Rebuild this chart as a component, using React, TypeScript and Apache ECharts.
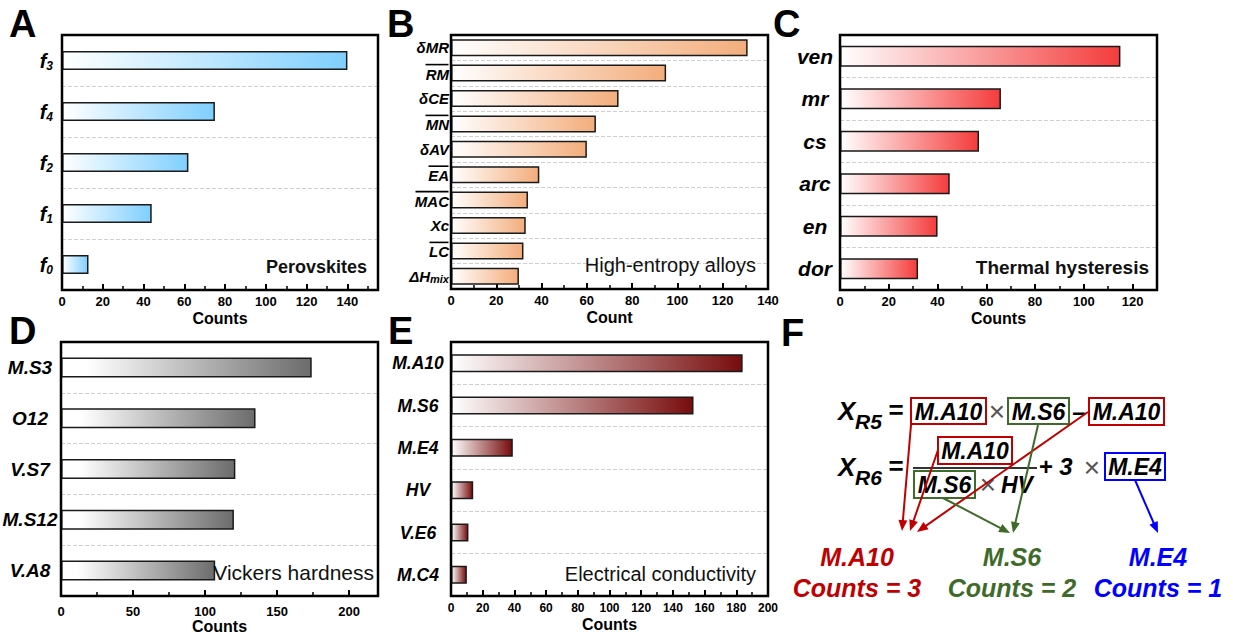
import React, { useEffect, useRef } from 'react';
import * as echarts from 'echarts';

const FONT = '"Liberation Sans", Arial, Helvetica, sans-serif';

// ---- data ----
const perovCategories = ['f3', 'f4', 'f2', 'f1', 'f0'];
const perovCounts = [140, 75, 62, 44, 13];

const heaCategories = ['δMR', 'RM', 'δCE', 'MN', 'δAV', 'EA', 'MAC', 'Xc', 'LC', 'ΔHmix'];
const heaCounts = [131, 95, 74, 64, 60, 39, 34, 33, 32, 30];

const thermCategories = ['ven', 'mr', 'cs', 'arc', 'en', 'dor'];
const thermCounts = [115, 66, 57, 45, 40, 32];

const vickersCategories = ['M.S3', 'O12', 'V.S7', 'M.S12', 'V.A8'];
const vickersCounts = [174, 135, 121, 120, 107];

const elecCategories = ['M.A10', 'M.S6', 'M.E4', 'HV', 'V.E6', 'M.C4'];
const elecCounts = [184, 153, 39, 14, 11, 10];

const axisMax = [155, 140, 130, 220, 200];
const axisInterval = [20, 20, 20, 50, 20];
const axisNames = ['Counts', 'Count', 'Counts', 'Counts', 'Counts'];
const panelTitles = ['Perovskites', 'High-entropy alloys', 'Thermal hysteresis', 'Vickers hardness', 'Electrical conductivity'];
const panelLetters = ['A', 'B', 'C', 'D', 'E', 'F'];

const formulaTerms = ['M.A10', 'M.S6', 'M.E4'];
const formulaCounts = [3, 2, 1];

// overlined labels in B (overline width)
const overlineWidth: Record<string, number> = { RM: 23, MN: 23, EA: 20, MAC: 33, LC: 19 };

export default function App() {
  const ref = useRef<HTMLDivElement>(null);

  useEffect(() => {
    if (!ref.current) return;
    const chart = echarts.init(ref.current, undefined, { renderer: 'svg' });

    const grids = [
      { left: 62, top: 35, width: 316, height: 255 },
      { left: 451, top: 35, width: 317, height: 254 },
      { left: 840, top: 35, width: 317, height: 255 },
      { left: 61, top: 342, width: 317, height: 254 },
      { left: 451, top: 342, width: 317, height: 254 },
    ];
    const cats = [perovCategories, heaCategories, thermCategories, vickersCategories, elecCategories];
    const vals = [perovCounts, heaCounts, thermCounts, vickersCounts, elecCounts];
    const barColors = [
      [{ offset: 0, color: '#ffffff' }, { offset: 1, color: '#7fcfff' }],
      [{ offset: 0, color: '#ffffff' }, { offset: 1, color: '#f3ad7c' }],
      [{ offset: 0, color: '#ffffff' }, { offset: 1, color: '#f43c3c' }],
      [{ offset: 0, color: '#ffffff' }, { offset: 0.1, color: '#ffffff' }, { offset: 1, color: '#6c6c6c' }],
      [{ offset: 0, color: '#ffffff' }, { offset: 1, color: '#780c0c' }],
    ];
    const barWidths = [19, 17, 21, 20, 18];
    const xLabelMargin = [5, 5, 5, 9, 6];
    const xLabelSize = [13, 13, 13, 13, 12];

    const labelStyles: any[] = [
      {
        margin: 9,
        align: 'right',
        formatter: (v: string) => `{i|f}{s|${v.slice(1)}}`,
        rich: {
          i: { fontFamily: FONT, fontStyle: 'italic', fontWeight: 'bold', fontSize: 20, lineHeight: 22, color: '#000' },
          s: { fontFamily: FONT, fontStyle: 'italic', fontWeight: 'bold', fontSize: 12, lineHeight: 10, verticalAlign: 'bottom', color: '#000' },
        },
      },
      {
        margin: 2,
        align: 'right',
        formatter: (v: string) => {
          if (v === 'ΔHmix') return '{t|ΔH}{s|mix}';
          if (overlineWidth[v]) return `{o${v}| }{sp| }\n{t|${v}}`;
          return `{t|${v}}`;
        },
        rich: (() => {
          const r: any = {
            t: { fontFamily: FONT, fontStyle: 'italic', fontWeight: 'bold', fontSize: 15, lineHeight: 17, color: '#000' },
            s: { fontFamily: FONT, fontStyle: 'italic', fontWeight: 'bold', fontSize: 11, lineHeight: 9, verticalAlign: 'bottom', color: '#000' },
            sp: { width: 0.5, height: 2, fontSize: 2, lineHeight: 2 },
          };
          Object.keys(overlineWidth).forEach((k) => {
            r['o' + k] = { width: overlineWidth[k], height: 1.6, fontSize: 2, lineHeight: 2, backgroundColor: '#000' };
          });
          return r;
        })(),
      },
      { margin: 25, align: 'center', fontSize: 21 },
      { margin: 31, align: 'center', fontSize: 19 },
      { margin: 33, align: 'center', fontSize: 17.5 },
    ];

    const xAxis = grids.map((_, i) => ({
      type: 'value',
      gridIndex: i,
      min: 0,
      max: axisMax[i],
      interval: axisInterval[i],
      axisLine: { show: false },
      axisTick: { show: true, inside: true, length: 6, lineStyle: { color: '#000', width: 2 } },
      minorTick: { show: true, splitNumber: 2, length: 4, lineStyle: { color: '#000', width: 1.5 } },
      splitLine: { show: false },
      axisLabel: {
        color: '#000',
        fontFamily: FONT,
        fontWeight: 'bold',
        fontSize: xLabelSize[i],
        margin: xLabelMargin[i],
        formatter: (v: number) => (v % axisInterval[i] === 0 ? String(v) : ''),
      },
      name: axisNames[i],
      nameLocation: 'middle',
      nameGap: 20,
      nameTextStyle: { color: '#000', fontFamily: FONT, fontWeight: 'bold', fontSize: 16 },
    }));

    const yAxis = grids.map((_, i) => {
      const ls = labelStyles[i];
      const axisLabel: any = {
        interval: 0,
        margin: ls.margin,
        align: ls.align,
        color: '#000',
        fontFamily: FONT,
        fontStyle: 'italic',
        fontWeight: 'bold',
        fontSize: ls.fontSize || 15,
      };
      if (ls.formatter) axisLabel.formatter = ls.formatter;
      if (ls.rich) axisLabel.rich = ls.rich;
      return {
        type: 'category',
        gridIndex: i,
        data: cats[i],
        inverse: true,
        axisLine: { show: false },
        axisTick: { show: true, inside: true, alignWithLabel: true, interval: 0, length: 4, lineStyle: { color: '#000', width: 2 } },
        splitLine: { show: true, interval: 0, showMinLine: false, showMaxLine: false, lineStyle: { color: '#cfcfcf', type: 'dashed', width: 1 } },
        axisLabel,
      };
    });

    const series = grids.map((_, i) => ({
      type: 'bar',
      xAxisIndex: i,
      yAxisIndex: i,
      data: vals[i],
      barWidth: barWidths[i],
      itemStyle: {
        color: new echarts.graphic.LinearGradient(0, 0, 1, 0, barColors[i]),
        borderColor: '#1a1a1a',
        borderWidth: 1.5,
      },
    }));

    const graphic: any[] = [];
    // frames
    grids.forEach((g) => {
      graphic.push({
        type: 'rect', z: 100, silent: true,
        shape: { x: g.left, y: g.top, width: g.width, height: g.height },
        style: { fill: 'none', stroke: '#000', lineWidth: 2.5 },
      });
    });
    // panel letters
    const letterPos = [[9, 24], [387, 24], [773, 24], [9, 331], [388, 331], [781, 333]];
    panelLetters.forEach((l, i) => {
      graphic.push({
        type: 'text', z: 100, x: letterPos[i][0], y: letterPos[i][1],
        style: { text: l, fontFamily: FONT, fontWeight: 'bold', fontSize: 38, fill: '#000', align: 'left', verticalAlign: 'middle' },
      });
    });
    // annotations
    const annot = [
      { x: 367, y: 267, w: 'bold', s: 18 },
      { x: 756, y: 265, w: 'normal', s: 20 },
      { x: 1149, y: 267, w: 'bold', s: 19 },
      { x: 374, y: 572, w: 'normal', s: 21 },
      { x: 756, y: 574, w: 'normal', s: 20 },
    ];
    panelTitles.forEach((t, i) => {
      graphic.push({
        type: 'text', z: 100, x: annot[i].x, y: annot[i].y,
        style: { text: t, fontFamily: FONT, fontWeight: annot[i].w, fontSize: annot[i].s, fill: '#111', align: 'right', verticalAlign: 'middle' },
      });
    });

    // ---- panel F diagram ----
    const red = '#c00000';
    const green = '#3e6b2a';
    const blue = '#0000ff';
    const txt = (text: string, x: number, y: number, o: any = {}) => ({
      type: 'text', z: 110, x, y,
      style: {
        text, fontFamily: FONT, fontWeight: o.w || 'bold', fontStyle: o.i === false ? 'normal' : 'italic',
        fontSize: o.s || 23, fill: o.c || '#000', align: o.a || 'center', verticalAlign: 'middle',
      },
    });
    const box = (x: number, y: number, w: number, h: number, c: string) => ({
      type: 'rect', z: 105, shape: { x, y, width: w, height: h }, style: { fill: 'none', stroke: c, lineWidth: 2 },
    });
    const arrow = (x1: number, y1: number, x2: number, y2: number, c: string) => {
      const dx = x2 - x1, dy = y2 - y1;
      const len = Math.sqrt(dx * dx + dy * dy);
      const ux = dx / len, uy = dy / len;
      const hl = 11, hw = 4.5;
      const bx = x2 - ux * hl, by = y2 - uy * hl;
      return [
        { type: 'line', z: 120, shape: { x1, y1, x2: bx + ux * 2, y2: by + uy * 2 }, style: { stroke: c, lineWidth: 2 } },
        {
          type: 'polygon', z: 120,
          shape: { points: [[x2, y2], [bx - uy * hw, by + ux * hw], [bx + uy * hw, by - ux * hw]] },
          style: { fill: c },
        },
      ];
    };

    graphic.push(
      txt('X', 838, 411, { s: 26, a: 'left' }),
      txt('R5', 855, 421, { s: 21, a: 'left' }),
      txt('=', 896, 410, { s: 26, i: false }),
      box(911, 398, 75, 26, red), txt('M.A10', 948.5, 411.5),
      txt('×', 997, 411, { s: 28, w: 'normal', i: false, c: '#555' }),
      box(1008, 398, 61, 26, green), txt('M.S6', 1038.5, 411.5),
      txt('–', 1079, 411, { s: 24, i: false }),
      box(1089, 398, 75, 27, red), txt('M.A10', 1126.5, 411.5),

      txt('X', 838, 467, { s: 26, a: 'left' }),
      txt('R6', 855, 477, { s: 21, a: 'left' }),
      txt('=', 896, 466, { s: 26, i: false }),
      box(938, 437, 74, 27, red), txt('M.A10', 975, 450.5),
      { type: 'line', z: 105, shape: { x1: 913, y1: 468, x2: 1037, y2: 468 }, style: { stroke: '#333', lineWidth: 2 } },
      box(914, 471, 61, 27, green), txt('M.S6', 944.5, 484.5),
      txt('×', 988, 484, { s: 28, w: 'normal', i: false, c: '#555' }),
      txt('HV', 1001, 485, { a: 'left' }),
      txt('+', 1046, 466, { s: 24, i: false }),
      txt('3', 1066, 466, { s: 24 }),
      txt('×', 1092, 467, { s: 28, w: 'normal', i: false, c: '#555' }),
      box(1105, 453, 60, 27, blue), txt('M.E4', 1135, 466.5),
    );

    graphic.push(
      ...arrow(911, 425, 902, 531, red),
      ...arrow(938, 450, 910, 531, red),
      ...arrow(1088, 412, 917, 532, red),
      ...arrow(1038, 425, 1013, 533, green),
      ...arrow(943, 498, 1010, 533, green),
      ...arrow(1135, 480, 1158, 533, blue),
    );

    const termColors = [red, green, blue];
    const termX = [857, 1012, 1158];
    formulaTerms.forEach((t, i) => {
      graphic.push(txt(t, termX[i], 557, { s: 25, c: termColors[i] }));
      graphic.push(txt(`Counts = ${formulaCounts[i]}`, termX[i], 588, { s: 25, c: termColors[i] }));
    });

    chart.setOption({
      animation: false,
      backgroundColor: '#fff',
      grid: grids.map((g) => ({ ...g, show: false, containLabel: false, outerBoundsMode: 'none' })),
      xAxis,
      yAxis,
      series,
      graphic,
    });

    return () => chart.dispose();
  }, []);

  return (
    <div
      ref={ref}
      style={{ position: 'fixed', left: 0, top: 0, width: 1233, height: 637, background: '#fff' }}
    />
  );
}
